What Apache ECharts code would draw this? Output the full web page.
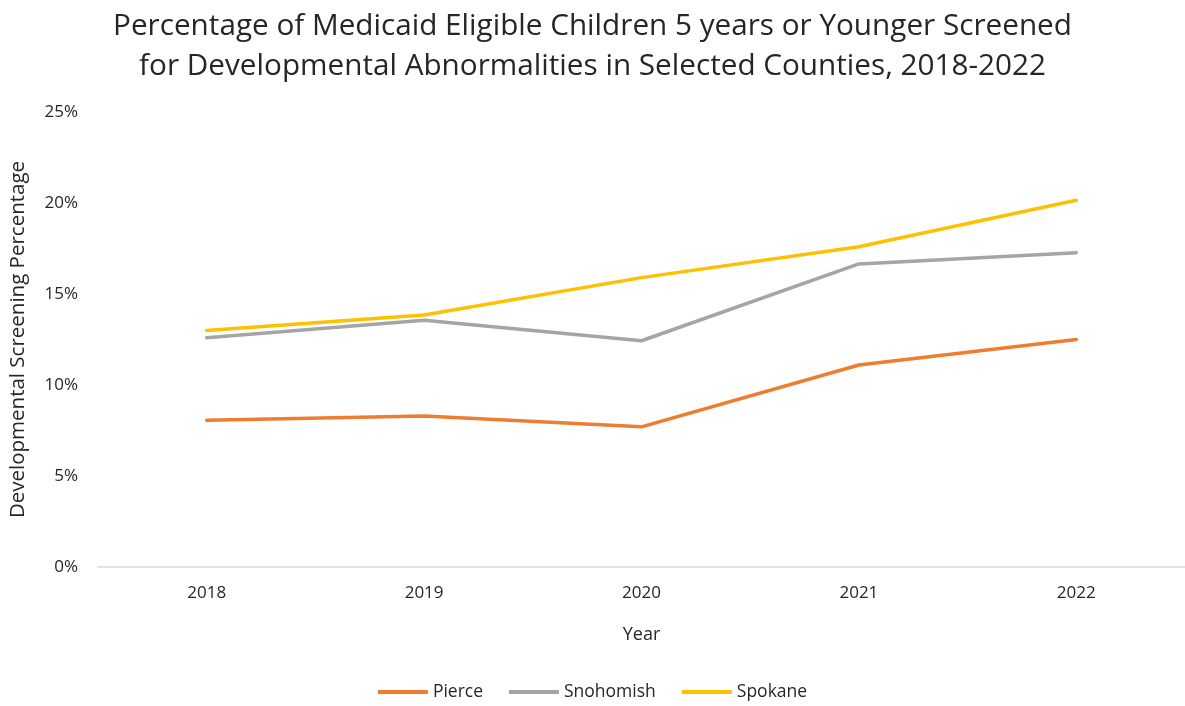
<!DOCTYPE html>
<html><head><meta charset="utf-8">
<script src="https://cdn.jsdelivr.net/npm/echarts@6/dist/echarts.min.js"></script>
<style>html,body{margin:0;padding:0;background:#fff}#c{width:1185px;height:706px}</style>
</head><body><div id="c"></div>
<script>
const years = ['2018','2019','2020','2021','2022'];
const pierce = [8.07, 8.3, 7.7, 11.1, 12.5];
const snohomish = [12.6, 13.56, 12.43, 16.65, 17.27];
const spokane = [13.0, 13.85, 15.9, 17.6, 20.15];
const seriesNames = ['Pierce','Snohomish','Spokane'];
const colors = ['#ED7D31','#A5A5A5','#FFC000'];
const font = 'Open Sans, Liberation Sans, sans-serif';
const txt = '#262626';
const chart = echarts.init(document.getElementById('c'));
chart.setOption({
  animation:false,
  title:{text:'Percentage of Medicaid Eligible Children 5 years or Younger Screened\nfor Developmental Abnormalities in Selected Counties, 2018-2022',
    left:'center',top:2,textStyle:{fontFamily:font,fontSize:29.7,fontWeight:'normal',color:txt,lineHeight:40}},
  legend:{bottom:0,left:'center',itemWidth:50,itemHeight:4,itemGap:26,icon:'rect',
    textStyle:{fontFamily:font,fontSize:17.5,color:txt},data:seriesNames},
  grid:{left:97,right:-5,top:112,bottom:139,containLabel:false},
  xAxis:{type:'category',data:years,boundaryGap:true,name:'Year',nameLocation:'middle',nameGap:59,
    nameTextStyle:{fontFamily:font,fontSize:18,color:txt},
    axisLine:{lineStyle:{color:'#D9D9D9',width:1.5}},axisTick:{show:false},
    axisLabel:{fontFamily:font,fontSize:17,color:txt,margin:18}},
  yAxis:{type:'value',min:0,max:25,interval:5,name:'Developmental Screening Percentage',nameLocation:'middle',nameGap:69,
    nameTextStyle:{fontFamily:font,fontSize:20.5,color:txt},
    axisLine:{show:false},axisTick:{show:false},splitLine:{show:false},
    axisLabel:{fontFamily:font,fontSize:17,color:txt,margin:20,formatter:'{value}%'}},
  series:[pierce,snohomish,spokane].map((d,i)=>({name:seriesNames[i],type:'line',data:d,symbol:'none',
    lineStyle:{width:3.5,color:colors[i],cap:'round'},itemStyle:{color:colors[i]}}))
});
</script></body></html>
